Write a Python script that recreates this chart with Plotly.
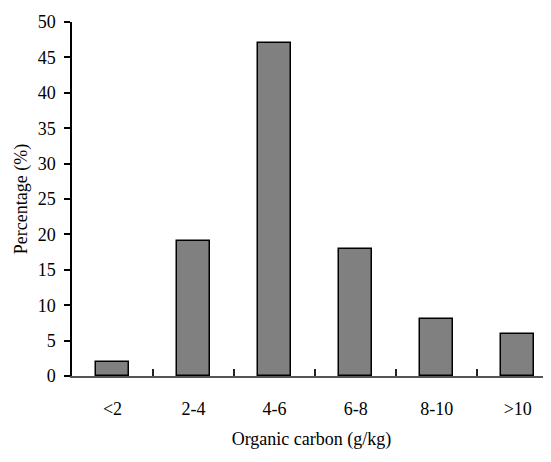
import plotly.graph_objects as go

categories = ["<2", "2-4", "4-6", "6-8", "8-10", ">10"]
percentages = [2, 19, 47, 18, 8, 6]
y_ticks = [0, 5, 10, 15, 20, 25, 30, 35, 40, 45, 50]

fig = go.Figure()
fig.add_trace(go.Bar(
    x=categories, y=percentages, width=0.41,
    marker=dict(color="#808080", line=dict(color="black", width=1.5)),
))

font = dict(family="Liberation Serif, Times New Roman, serif", size=18, color="black")
fig.update_layout(
    width=543, height=454,
    margin=dict(l=64, r=0, t=14, b=86),
    paper_bgcolor="white", plot_bgcolor="white",
    font=font, showlegend=False,
    bargap=0,
)
fig.update_xaxes(
    type="category", range=[-0.5, 5.41],
    showline=True, linecolor="#555555", linewidth=1.5,
    ticks="inside", tickson="boundaries", ticklen=7, tickcolor="#222222", tickwidth=1.5,
    ticklabelstandoff=16,
    showgrid=False, zeroline=False,
    title=dict(text="Organic carbon (g/kg)", font=font, standoff=14),
)
fig.update_yaxes(
    range=[0, 50], tickvals=y_ticks,
    showline=True, linecolor="black", linewidth=1.5,
    ticks="outside", ticklen=6, tickcolor="black", tickwidth=1.5,
    ticklabelstandoff=5,
    showgrid=False, zeroline=False,
    title=dict(text="Percentage (%)", font=font, standoff=5),
)
fig.write_html("out.html")
